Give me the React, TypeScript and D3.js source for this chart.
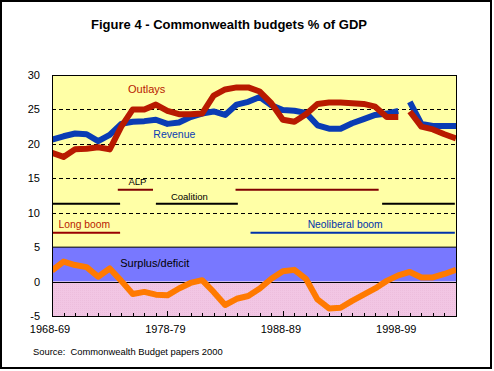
import React from 'react';
import * as d3 from 'd3';

// fiscal years 1968-69 .. 2003-04 (start year)
const years = d3.range(1968, 2004);

// cash basis up to 1998-99, accrual basis afterwards
const outlaysCash = [18.7, 18.1, 19.2, 19.3, 19.5, 19.2, 22.5, 25.0, 25.0, 25.7, 24.8, 24.3, 24.3, 24.4, 27.0, 27.9, 28.2, 28.2, 27.6, 25.9, 23.5, 23.2, 24.3, 25.8, 26.0, 26.0, 25.9, 25.8, 25.4, 23.9, 23.9];
const outlaysAccrual = [24.7, 22.5, 22.1, 21.4, 20.8];
const revenueCash = [20.6, 21.1, 21.5, 21.4, 20.4, 21.3, 22.9, 23.2, 23.3, 23.5, 22.9, 23.1, 23.9, 24.4, 24.7, 24.2, 25.7, 26.1, 26.8, 25.6, 24.9, 24.8, 24.5, 22.7, 22.2, 22.2, 23.0, 23.6, 24.2, 24.4, 24.8];
const revenueAccrual = [26.1, 22.9, 22.6, 22.6, 22.6];
const surplus = [1.6, 2.9, 2.4, 2.1, 0.7, 1.9, 0.1, -1.8, -1.5, -1.9, -2.0, -1.0, -0.2, 0.2, -1.5, -3.4, -2.5, -2.1, -1.0, 0.4, 1.5, 1.7, 0.4, -2.6, -3.9, -3.8, -2.8, -1.9, -1.0, 0.1, 0.9, 1.4, 0.6, 0.6, 1.1, 1.7];

const yTicks = [30, 25, 20, 15, 10, 5, 0, -5];
const gridValues = [25, 20, 15, 10];
const labelYears = [1968, 1978, 1988, 1998];

// government / era periods (fractional start year)
const govPeriods = [
  { name: 'Coalition', from: 1968, to: 1973.9, level: 11.3, color: '#000000' },
  { name: 'ALP', from: 1973.7, to: 1976.75, level: 13.35, color: '#800000' },
  { name: 'Coalition', from: 1977, to: 1984.1, level: 11.3, color: '#000000' },
  { name: 'ALP', from: 1983.9, to: 1996.3, level: 13.35, color: '#800000' },
  { name: 'Coalition', from: 1996.6, to: 2002.9, level: 11.3, color: '#000000' },
];
const eraPeriods = [
  { name: 'Long boom', from: 1968, to: 1973.9, level: 7.1, color: '#990000', text: '#B81A00', labelAt: 1970.8 },
  { name: 'Neoliberal boom', from: 1985.2, to: 2002.9, level: 7.1, color: '#0033AA', text: '#0033AA', labelAt: 1993.4 },
];

const W = 494;
const H = 371;
const font = 'Arial, "Liberation Sans", sans-serif';

export default function App() {
  const x = d3.scaleLinear().domain([1968, 2003]).range([52, 456]);
  const y = d3.scaleLinear().domain([-5, 30]).range([316, 75]);

  const line = d3.line<[number, number]>()
    .x(d => x(d[0]))
    .y(d => y(d[1]));

  const cashYears = years.slice(0, outlaysCash.length);
  const accrualYears = years.slice(outlaysCash.length);
  const zip = (ys: number[], vs: number[]) => ys.map((yr, i) => [yr, vs[i]] as [number, number]);

  const [x0, x1] = x.range();

  return (
    <svg width={W} height={H} style={{ position: 'absolute', left: 0, top: 0 }} fontFamily={font}>
      <defs>
        <pattern id="pinkDots" width="2" height="2" patternUnits="userSpaceOnUse">
          <rect width="2" height="2" fill="#F2C6E4" />
          <rect width="1" height="1" fill="#EDBEDD" />
        </pattern>
        <clipPath id="plotClip">
          <rect x={x0} y={y(30)} width={x1 - x0} height={y(-5) - y(30)} />
        </clipPath>
      </defs>
      <rect x={0} y={0} width={W} height={H} fill="#fff" />
      <rect x={1} y={1} width={490} height={367} fill="none" stroke="#000" strokeWidth={2} />

      <text x={229} y={29} textAnchor="middle" fontWeight="bold" fontSize={13}>
        Figure 4 - Commonwealth budgets % of GDP
      </text>

      {/* background bands */}
      <rect x={x0} y={y(30)} width={x1 - x0} height={y(5) - y(30)} fill="#FFFFA6" />
      <rect x={x0} y={y(5)} width={x1 - x0} height={y(0) - y(5)} fill="#7878FF" />
      <rect x={x0} y={y(0)} width={x1 - x0} height={y(-5) - y(0)} fill="url(#pinkDots)" />
      <line x1={x0} x2={x1} y1={y(5)} y2={y(5)} stroke="#000" strokeWidth={1} />

      {gridValues.map(v => (
        <line key={v} x1={x0} x2={x1} y1={Math.round(y(v)) + 0.5} y2={Math.round(y(v)) + 0.5}
          stroke="#000" strokeDasharray="4,3" />
      ))}
      <line x1={x0} x2={x1} y1={Math.round(y(0)) + 0.5} y2={Math.round(y(0)) + 0.5} stroke="#000" />

      {/* period annotations */}
      {govPeriods.map((p, i) => (
        <line key={'g' + i} x1={x(p.from)} x2={x(p.to)} y1={y(p.level)} y2={y(p.level)}
          stroke={p.color} strokeWidth={2} />
      ))}
      {eraPeriods.map((p, i) => (
        <g key={'e' + i}>
          <line x1={x(p.from)} x2={x(p.to)} y1={y(p.level)} y2={y(p.level)} stroke={p.color} strokeWidth={2} />
          <text x={x(p.labelAt)} y={y(p.level) - 5} textAnchor="middle" fontSize={10.3} fill={p.text}>{p.name}</text>
        </g>
      ))}
      <text x={x(1975.4)} y={y(14.0)} textAnchor="middle" fontSize={9.5}>ALP</text>
      <text x={x(1979.9)} y={y(11.85)} textAnchor="middle" fontSize={9.5}>Coalition</text>

      {/* series */}
      <g clipPath="url(#plotClip)" fill="none" strokeWidth={6} strokeLinejoin="round">
        <path d={line(zip(cashYears, revenueCash)) || ''} stroke="#0A3CB4" />
        <path d={line(zip(accrualYears, revenueAccrual)) || ''} stroke="#0A3CB4" />
        <path d={line(zip(cashYears, outlaysCash)) || ''} stroke="#B81A00" />
        <path d={line(zip(accrualYears, outlaysAccrual)) || ''} stroke="#B81A00" />
        <path d={line(zip(years, surplus)) || ''} stroke="#FF7A00" />
      </g>

      <text x={x(1976.2)} y={y(27.4)} textAnchor="middle" fontSize={11} fill="#B81A00">Outlays</text>
      <text x={x(1978.6)} y={y(20.9)} textAnchor="middle" fontSize={10.5} fill="#0A3CB4">Revenue</text>
      <text x={x(1976.9)} y={y(2.1)} textAnchor="middle" fontSize={11}>Surplus/deficit</text>

      {/* plot border */}
      <rect x={x0 + 0.5} y={y(30) + 0.5} width={x1 - x0} height={y(-5) - y(30)} fill="none" stroke="#000" />

      {/* category ticks */}
      {years.slice(1).map(yr => {
        const major = labelYears.includes(yr);
        const xx = Math.round(x(yr)) + 0.5;
        return <line key={yr} x1={xx} x2={xx} y1={y(-5)} y2={y(-5) - (major ? 5 : 3)} stroke="#000" />;
      })}

      {yTicks.map(v => (
        <text key={v} x={40} y={y(v) + 4} textAnchor="end" fontSize={11}>{v}</text>
      ))}
      {labelYears.map(yr => (
        <text key={yr} x={x(yr) - 2} y={333} textAnchor="middle" fontSize={11}>
          {`${yr}-${String((yr + 1) % 100).padStart(2, '0')}`}
        </text>
      ))}

      <text x={33} y={355} fontSize={9.4}>{'Source:\u00a0 Commonwealth Budget papers 2000'}</text>
    </svg>
  );
}
